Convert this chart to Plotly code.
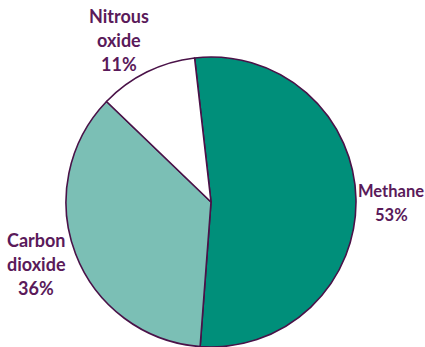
import plotly.graph_objects as go

# Greenhouse gas shares
gases = ["Methane", "Carbon dioxide", "Nitrous oxide"]
label_lines = [["Methane"], ["Carbon", "dioxide"], ["Nitrous", "oxide"]]
shares = [53, 36, 11]
colors = ["#008f7a", "#7bbfb5", "#ffffff"]

W, H = 425, 347
ink = "#5a1a5a"
font_family = "Lato, Roboto, sans-serif"
line_gap = 24  # px between stacked label lines

fig = go.Figure(
    go.Pie(
        labels=gases,
        values=shares,
        sort=False,
        direction="clockwise",
        rotation=-6.5,
        marker=dict(colors=colors, line=dict(color="#4a1248", width=1.6)),
        textinfo="none",
        hoverinfo="label+percent",
        domain=dict(x=[66 / W, 356 / W], y=[0, 290 / H]),
        showlegend=False,
    )
)

# Centre of the first label line for each gas (pixels) and font size
label_pos = {
    "Methane": (391, 191, 16.5),
    "Carbon dioxide": (36, 240, 18),
    "Nitrous oxide": (119, 16, 18),
}

for gas, lines, v in zip(gases, label_lines, shares):
    px, py, fs = label_pos[gas]
    for i, line in enumerate(lines + [f"{v}%"]):
        fig.add_annotation(
            x=px / W,
            y=1 - (py + i * line_gap) / H,
            xref="paper",
            yref="paper",
            xanchor="center",
            yanchor="middle",
            text=f"<b>{line}</b>",
            showarrow=False,
            font=dict(family=font_family, size=fs, color=ink),
        )

fig.update_layout(
    width=W,
    height=H,
    margin=dict(l=0, r=0, t=0, b=0),
    paper_bgcolor="white",
    plot_bgcolor="white",
)

fig.write_html("out.html")
